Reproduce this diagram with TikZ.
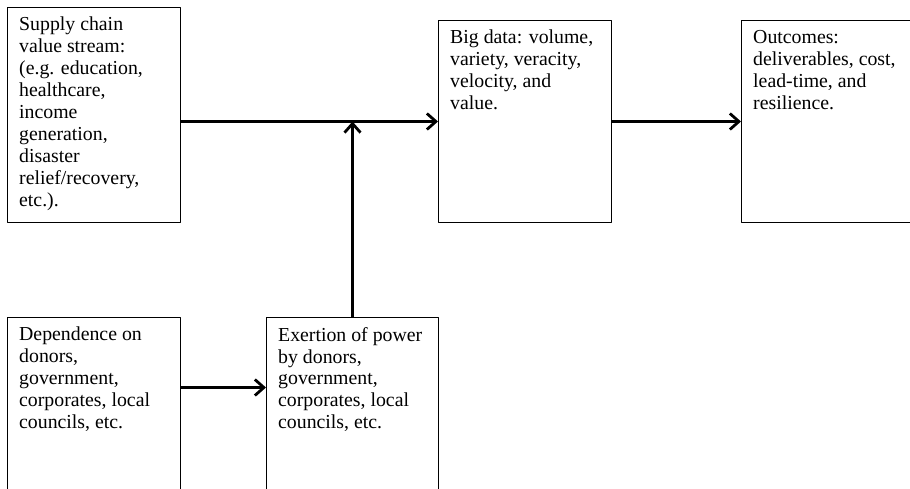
\documentclass[tikz,border=0pt]{standalone}
\usepackage{fontspec}
\setmainfont{Liberation Serif}
\usetikzlibrary{arrows.meta}
\begin{document}
\begin{tikzpicture}[x=1pt, y=-1pt, line join=round, >={Straight Barb[length=9pt,width=16pt]}]
    \tikzset{
      box/.style={draw, line width=1pt, anchor=north west, inner sep=0pt, minimum width=173pt, minimum height=#1},
      txt/.style={anchor=north west, align=left, inner xsep=12pt, inner ysep=10pt, font=\fontsize{19.8}{21.9}\selectfont},
      flow/.style={->, line width=2.8pt}
    }
    \clip (0,0) rectangle (910,488);
    % boxes
    \node[box=215pt] (sc) at (7,7) {};
    \node[box=202pt] (bd) at (438,20) {};
    \node[box=202pt, minimum width=185pt] (oc) at (741,20) {};
    \node[box=225pt] (dp) at (7,317) {};
    \node[box=225pt, minimum width=172pt] (ex) at (266,317) {};
    % texts
    \node[txt] (sct) at (sc.north west) {Supply chain\\value stream:\\(e.g. education,\\healthcare,\\income\\generation,\\disaster\\relief/recovery,\\etc.).};
    \node[txt] (bdt) at (bd.north west) {Big data: volume,\\variety, veracity,\\velocity, and\\value.};
    \node[txt] (oct) at (oc.north west) {Outcomes:\\deliverables, cost,\\lead-time, and\\resilience.};
    \node[txt] (dpt) at (dp.north west) {Dependence on\\donors,\\government,\\corporates, local\\councils, etc.};
    \node[txt] (ext) at (ex.north west) {Exertion of power\\by donors,\\government,\\corporates, local\\councils, etc.};
    % arrows
    \draw[flow] (sc.east |- bd.west) -- (bd.west);
    \draw[flow] (bd.east) -- (oc.west);
    \draw[flow] (ex.north) -- (ex.north |- bd.west);
    \draw[flow] ([yshift=-70.5pt]dp.north east) -- ([yshift=-70.5pt]ex.north west);
\end{tikzpicture}
\end{document}
